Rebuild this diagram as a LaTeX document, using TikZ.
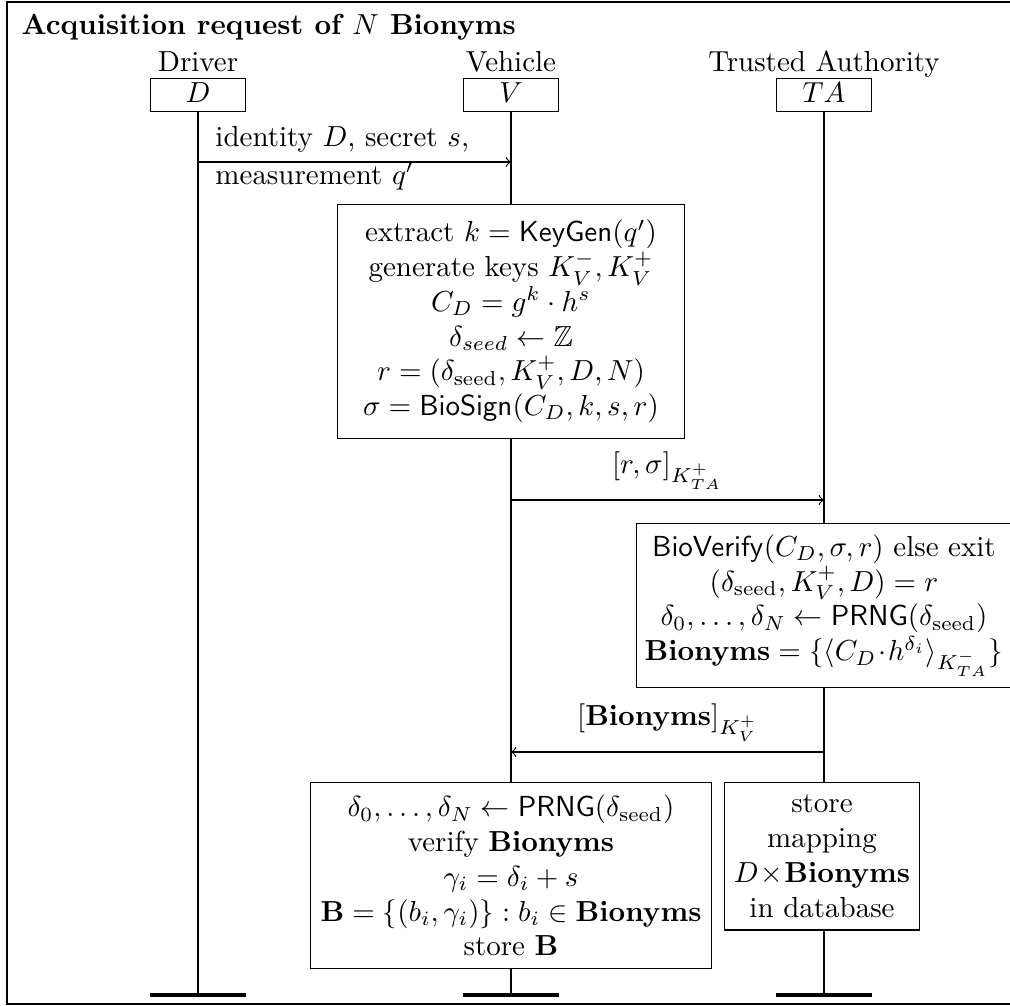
\documentclass[tikz,border=0pt]{standalone}
\usepackage{amsmath,amssymb}
\begin{document}
\begin{tikzpicture}[x=0.345pt,y=-0.345pt,
  actor/.style={draw, fill=white, minimum width=33pt, inner ysep=1.5pt, text depth=1.5pt},
  actorname/.style={anchor=base, inner sep=0pt},
  proc/.style={draw, fill=white, align=center, anchor=north, inner ysep=4.3pt},
  msg/.style={->},
  life/.style={line width=0.4pt},
  endbar/.style={line width=1.2pt}]
\useasboundingbox (0,0) rectangle (1010,1006);
% frame
\draw[line width=0.6pt] (7,2) rectangle (1014,1004);
% title
\node[anchor=base west, inner sep=0pt] (title) at (21,35) {\bfseries Acquisition request of $N$ Bionyms};
% actors
\node[actorname] (dname) at (198,72) {Driver};
\node[actorname] (vname) at (511,72) {Vehicle};
\node[actorname] (tname) at (824,72) {Trusted Authority};
\node[actor] (D) at (198,95) {$D$};
\node[actor] (V) at (511,95) {$V$};
\node[actor] (TA) at (824,95) {$TA$};
% lifeline ends
\coordinate (Dend) at (198,995);
\coordinate (Vend) at (511,995);
\coordinate (Tend) at (824,995);
\draw[life] (D.south) -- (Dend);
\draw[life] (V.south) -- (Vend);
\draw[life] (TA.south) -- (Tend);
\draw[endbar] ([xshift=-16.7pt]Dend) -- ([xshift=16.7pt]Dend);
\draw[endbar] ([xshift=-16.7pt]Vend) -- ([xshift=16.7pt]Vend);
\draw[endbar] ([xshift=-16.7pt]Tend) -- ([xshift=16.7pt]Tend);
% message 1
\coordinate (m1s) at (198,162);
\coordinate (m1e) at (511,162);
\draw[msg] (m1s) -- (m1e)
  node[pos=0, anchor=base west, xshift=2.5pt, yshift=5.2pt] (m1a) {identity $D$, secret $s$,}
  node[pos=0, anchor=base west, xshift=2.5pt, yshift=-7.6pt] (m1b) {measurement $q'$};
% vehicle computation
\node[proc, minimum width=120pt, inner ysep=5.3pt] (vbox1) at (511,204) {extract $k=\mathsf{KeyGen}(q')$\\
  generate keys $K_V^-, K_V^+$\\
  $C_D = g^k\cdot h^s$\\
  $\delta_{seed} \leftarrow \mathbb{Z}$\\
  $r=(\delta_{\text{seed}}, K_V^+, D, N)$\\
  $\sigma = \mathsf{BioSign}(C_D,k,s,r)$};
% message 2
\coordinate (m2s) at (511,500);
\coordinate (m2e) at (824,500);
\draw[msg] (m2s) -- (m2e) node[midway, above] (m2l) {$[r,\sigma]_{K_{TA}^+}$};
% TA computation
\node[proc, inner ysep=3.8pt, inner xsep=2.8pt] (tbox1) at (824,523) {$\mathsf{BioVerify}(C_D,\sigma,r)$ else exit\\
  $(\delta_{\text{seed}}, K_V^+, D) = r$\\
  $\delta_0,\ldots,\delta_N \leftarrow \mathsf{PRNG}(\delta_{\text{seed}})$\\
  $\mathbf{Bionyms} = \{\langle C_D\!\cdot\! h^{\delta_i}\rangle_{K_{TA}^-}\}$};
% message 3
\coordinate (m3s) at (824,752);
\coordinate (m3e) at (511,752);
\draw[msg] (m3s) -- (m3e) node[midway, above] (m3l) {$[\mathbf{Bionyms}]_{K_V^+}$};
% final boxes
\node[proc] (vbox2) at (511,782) {$\delta_0,\ldots,\delta_N \leftarrow \mathsf{PRNG}(\delta_{\text{seed}})$\\
  verify $\mathbf{Bionyms}$\\
  $\gamma_i = \delta_i + s$\\
  $\mathbf{B} = \{(b_i,\gamma_i)\} : b_i \in \mathbf{Bionyms}$\\
  store $\mathbf{B}$};
\node[proc] (tbox2) at (822,782) {store\\ mapping\\ $D\!\times\!\mathbf{Bionyms}$\\ in database};
\end{tikzpicture}
\end{document}
